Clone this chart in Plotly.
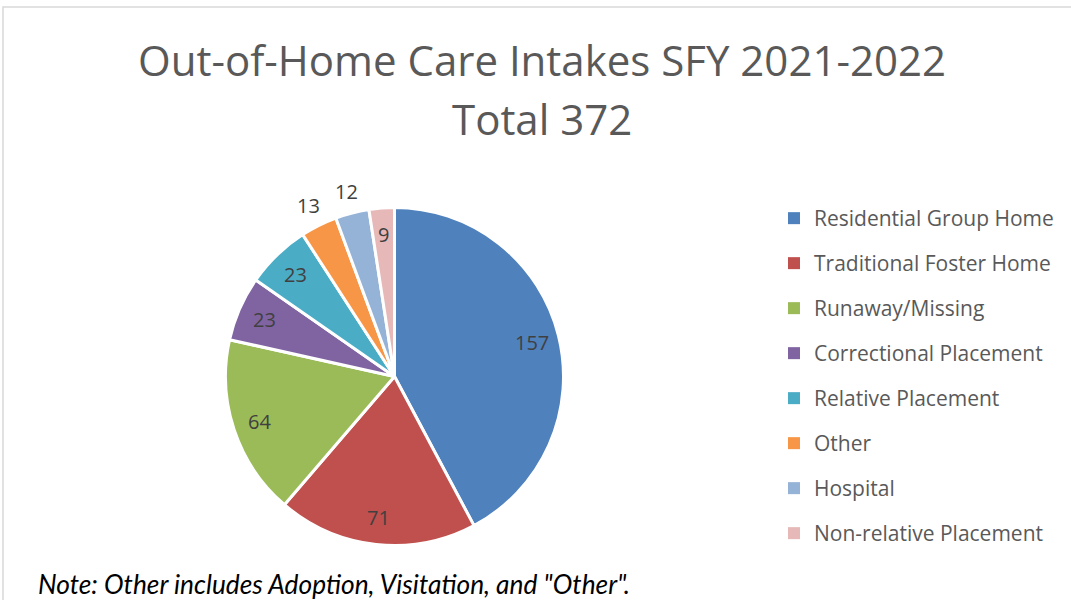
import math
import plotly.graph_objects as go

categories = ["Residential Group Home", "Traditional Foster Home", "Runaway/Missing",
              "Correctional Placement", "Relative Placement", "Other", "Hospital",
              "Non-relative Placement"]
values = [157, 71, 64, 23, 23, 13, 12, 9]
colors = ["#4F81BD", "#C0504D", "#9BBB59", "#8064A2", "#4BACC6", "#F79646", "#95B3D7", "#E6B9B8"]
label_outside = [False, False, False, False, False, True, True, False]
title_line1 = "Out-of-Home Care Intakes SFY 2021-2022"
title_line2 = "Total 372"
note = "Note: Other includes Adoption, Visitation, and \"Other\"."

W, H = 1071, 600
cx, cy, r = 394.5, 376.5, 169

fig = go.Figure()
fig.add_trace(go.Pie(
    labels=categories, values=values, sort=False, direction="clockwise", rotation=0,
    marker=dict(colors=colors, line=dict(color="white", width=3)),
    textinfo="none", showlegend=False, hoverinfo="label+value",
    domain=dict(x=[(cx - r) / W, (cx + r) / W], y=[(H - cy - r) / H, (H - cy + r) / H]),
))
for cat, col in zip(categories, colors):
    fig.add_trace(go.Scatter(x=[None], y=[None], mode="markers", name=cat,
                             legendgroup=cat,
                             marker=dict(symbol="square", size=9, color=col)))

# data labels placed along each slice's mid-angle (derived from the values)
annotations = []
total = sum(values)
cum = 0
for v, outside in zip(values, label_outside):
    mid = (cum + v / 2) / total * 2 * math.pi
    cum += v
    R = r + 22 if outside else 0.84 * r
    px = cx + R * math.sin(mid)
    py = cy - R * math.cos(mid)
    annotations.append(dict(text=str(v), x=px / W, y=1 - py / H, xref="paper", yref="paper",
                            xanchor="center", yanchor="middle", showarrow=False,
                            font=dict(family="Open Sans", size=20, color="#404040")))

annotations += [
    dict(text=title_line1, x=542 / W, y=1 - 60 / H, xref="paper", yref="paper",
         xanchor="center", yanchor="middle", showarrow=False,
         font=dict(family="Open Sans", size=42, color="#595959")),
    dict(text=title_line2, x=542 / W, y=1 - 118 / H, xref="paper", yref="paper",
         xanchor="center", yanchor="middle", showarrow=False,
         font=dict(family="Open Sans", size=42, color="#595959")),
    dict(text="<i>" + note + "</i>", x=36 / W, y=1 - 584 / H, xref="paper", yref="paper",
         xanchor="left", yanchor="middle", showarrow=False,
         font=dict(family="Lato", size=26.3, color="black")),
]

fig.update_layout(
    width=W, height=H, margin=dict(l=0, r=0, t=0, b=0),
    paper_bgcolor="white", plot_bgcolor="white",
    legend=dict(x=774 / W, xanchor="left", y=1 - 198 / H, yanchor="top",
                font=dict(family="Open Sans", size=21, color="#595959"),
                tracegroupgap=14.7, itemsizing="constant", bgcolor="rgba(0,0,0,0)"),
    xaxis=dict(visible=False), yaxis=dict(visible=False),
    annotations=annotations,
    shapes=[dict(type="rect", xref="paper", yref="paper", x0=3 / W, x1=1.02,
                 y0=-0.02, y1=1 - 7 / H, line=dict(color="#D9D9D9", width=1.5))],
)

fig.write_html("out.html", config={"displayModeBar": False},
               post_script="document.body.style.margin='0';")
